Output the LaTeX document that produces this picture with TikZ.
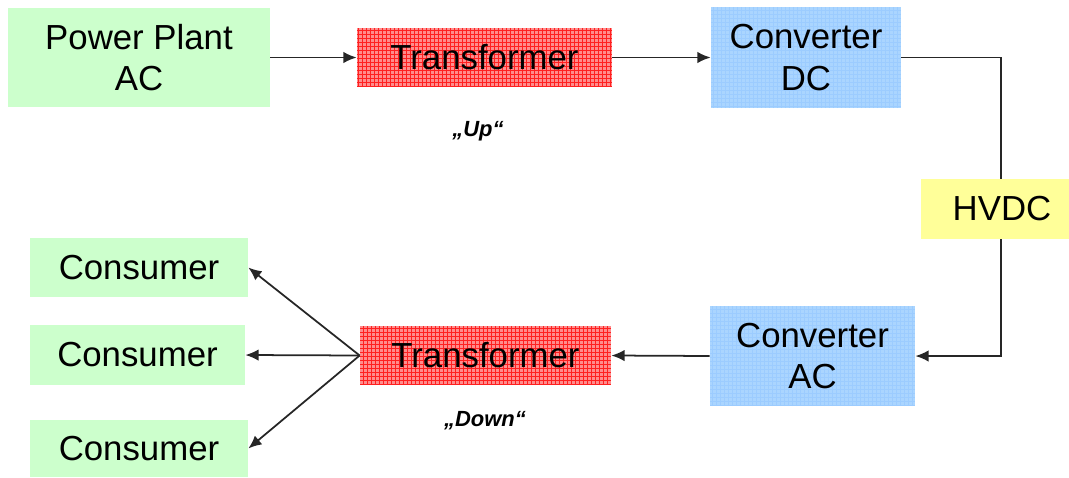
\documentclass[tikz,border=0pt]{standalone}
\usepackage{fontspec}
\setmainfont{Liberation Sans}
\usetikzlibrary{arrows.meta}
\definecolor{boxgreen}{HTML}{CCFFCC}
\definecolor{boxblue}{HTML}{AAD5FF}
\definecolor{bluegrid}{HTML}{9CCCFF}
\definecolor{boxyellow}{HTML}{FFFF99}
\definecolor{gridfill}{HTML}{FF8C8C}
\definecolor{gridline}{HTML}{FF2020}
\tikzset{
  box/.style={draw=none, inner sep=0pt, align=center, text=black,
    font=\fontsize{19.8}{23.8}\selectfont},
  greenbox/.style={box, fill=boxgreen},
  bluebox/.style={box, path picture={
      \fill[boxblue] (path picture bounding box.south west) rectangle (path picture bounding box.north east);
      \draw[bluegrid, line width=0.3pt, step=0.08cm] (path picture bounding box.south west) grid (path picture bounding box.north east);
    }},
  yellowbox/.style={box, fill=boxyellow},
  trafobox/.style={box, path picture={
      \fill[gridfill] (path picture bounding box.south west) rectangle (path picture bounding box.north east);
      \draw[gridline, line width=0.3pt, step=0.08cm] (path picture bounding box.south west) grid (path picture bounding box.north east);
    }},
  note/.style={inner sep=0pt, font=\fontsize{12.5}{15}\selectfont\bfseries\itshape},
  conn/.style={line width=1pt, draw=black!85, -{Latex[length=7.5pt, width=6.5pt]}},
}
\begin{document}
\begin{tikzpicture}[x=0.02cm, y=-0.02cm]
\useasboundingbox (0,0) rectangle (1069,477);
% top row
\node[greenbox, minimum width=262*0.02cm, minimum height=99*0.02cm] (pp) at (139,57.5) {Power Plant\\AC};
\node[trafobox, minimum width=255*0.02cm, minimum height=59*0.02cm] (tu) at (484.5,57.5) {Transformer};
\node[bluebox, minimum width=190*0.02cm, minimum height=101*0.02cm] (cdc) at (806,57.5) {Converter\\DC};
\node[note] (up) at (478,131) {„Up“};
% bottom row
\node[bluebox, minimum width=205*0.02cm, minimum height=100*0.02cm] (cac) at (812.5,356) {Converter\\AC};
\node[trafobox, minimum width=251*0.02cm, minimum height=59*0.02cm] (td) at (485.5,355.5) {Transformer};
\node[note] (down) at (485,421) {„Down“};
\node[greenbox, minimum width=218*0.02cm, minimum height=59*0.02cm] (k1) at (139,267.5) {Consumer};
\node[greenbox, minimum width=215*0.02cm, minimum height=60*0.02cm] (k2) at (137.5,355) {Consumer};
\node[greenbox, minimum width=218*0.02cm, minimum height=57*0.02cm] (k3) at (139,448.5) {Consumer};
% connectors
\draw[conn] (pp.east) -- (tu.west);
\draw[conn] (tu.east) -- (cdc.west);
\coordinate (c1) at (1001,57.5);
\coordinate (c2) at (1001,356);
\draw[conn] (cdc.east) -- (c1) -- (c2) -- (cac.east);
\draw[conn] (cac.west) -- (td.east);
\draw[conn] (td.west) -- (k1.east);
\draw[conn] (td.west) -- (k2.east);
\draw[conn] (td.west) -- (k3.east);
% HVDC box on top of the line
\node[yellowbox, minimum width=148*0.02cm, minimum height=60*0.02cm] (hv) at (995,209) {\hspace{8pt}HVDC};
\end{tikzpicture}
\end{document}
